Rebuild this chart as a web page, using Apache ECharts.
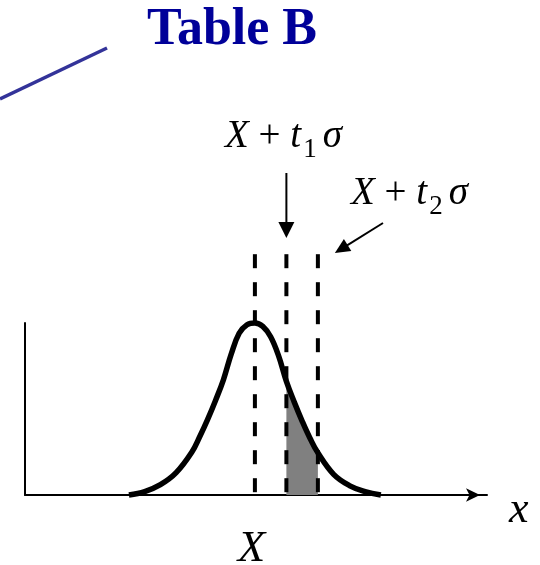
<!DOCTYPE html>
<html>
<head>
<meta charset="utf-8">
<script src="https://cdn.jsdelivr.net/npm/echarts@6/dist/echarts.min.js"></script>
<style>
  html, body { margin: 0; padding: 0; background: #fff; }
  #chart { width: 540px; height: 565px; }
</style>
</head>
<body>
<div id="chart"></div>
<script>
// Normal density curve; x is measured in σ units from the mean X, y is relative height
const curveX = [-4, -3.5, -3, -2.5, -2, -1.75, -1.5, -1.25, -1, -0.75, -0.5, -0.25, 0, 0.25, 0.5, 0.75, 1, 1.25, 1.5, 1.75, 2, 2.5, 3, 3.5, 4];
const curveY = [0, 0.02, 0.06, 0.13, 0.25, 0.34, 0.44, 0.55, 0.67, 0.82, 0.94, 0.99, 1, 0.98, 0.92, 0.81, 0.66, 0.54, 0.43, 0.33, 0.245, 0.12, 0.055, 0.02, 0];

// Dashed guide positions: X, X + t1σ, X + t2σ
const markX = [0, 1, 2];
const markTop = 1.4;

// Shaded band between the two limits
const shadeFrom = 1;
const shadeTo = 2;

// Axis texts
const meanLabel = 'X';
const axisName = 'x';
const titleText = 'Table B';

const serif = 'Liberation Serif';

const curveData = curveX.map((x, i) => [x, curveY[i]]);
const shadeData = curveData.filter(p => p[0] >= shadeFrom && p[0] <= shadeTo);

const chart = echarts.init(document.getElementById('chart'), null, { renderer: 'canvas' });

const guideSeries = markX.map(m => ({
  type: 'line',
  data: [[m, markTop], [m, 0]],
  showSymbol: false,
  clip: false,
  silent: true,
  z: 3,
  lineStyle: { color: '#000', width: 4, type: [14, 14] }
}));

chart.setOption({
  animation: false,
  backgroundColor: '#fff',
  grid: { left: 25, top: 323, right: 53, bottom: 70, containLabel: false, outerBoundsMode: 'none' },
  xAxis: {
    type: 'value',
    min: -7.3,
    max: 7.37,
    axisLine: {
      show: true,
      onZero: false,
      symbol: ['none', 'arrow'],
      symbolSize: [10, 14],
      symbolOffset: [0, -7],
      lineStyle: { color: '#000', width: 2 }
    },
    axisTick: { show: false },
    splitLine: { show: false },
    axisLabel: {
      customValues: [markX[0]],
      formatter: () => meanLabel,
      margin: 32,
      padding: [0, 7, 0, 0],
      fontFamily: serif,
      fontStyle: 'italic',
      fontSize: 45,
      color: '#000'
    },
    name: '{v|' + axisName + '}',
    nameLocation: 'end',
    nameGap: 22,
    nameTextStyle: {
      rich: {
        v: { fontFamily: serif, fontStyle: 'italic', fontSize: 44, lineHeight: 44, color: '#000', padding: [30, 0, 0, 0] }
      }
    }
  },
  yAxis: {
    type: 'value',
    min: 0,
    max: 1,
    axisLine: { show: true, onZero: false, lineStyle: { color: '#000', width: 2 } },
    axisTick: { show: false },
    axisLabel: { show: false },
    splitLine: { show: false }
  },
  series: [
    {
      type: 'line',
      data: shadeData,
      smooth: 0.4,
      showSymbol: false,
      silent: true,
      z: 1,
      lineStyle: { width: 0 },
      areaStyle: { color: '#808080', opacity: 1 }
    },
    ...guideSeries,
    {
      type: 'line',
      data: curveData,
      smooth: 0.4,
      showSymbol: false,
      clip: false,
      silent: true,
      z: 4,
      lineStyle: { color: '#000', width: 5.5 }
    }
  ]
});

// Annotations anchored to the guide lines
const pT1 = chart.convertToPixel({ gridIndex: 0 }, [markX[1], markTop]);
const pT2 = chart.convertToPixel({ gridIndex: 0 }, [markX[2], markTop]);

const formulaRich = {
  i: { fontFamily: serif, fontStyle: 'italic', fontSize: 39, lineHeight: 39, verticalAlign: 'top', fill: '#000' },
  n: { fontFamily: serif, fontSize: 39, lineHeight: 39, verticalAlign: 'top', fill: '#000' },
  s: { fontFamily: serif, fontSize: 27, lineHeight: 27, verticalAlign: 'top', padding: [19, 6, 0, 2], fill: '#000' }
};

const a1x = pT1[0];
const tip2 = [pT2[0] + 17, 253];
const tail2 = [383, 223];
const dx = tip2[0] - tail2[0], dy = tip2[1] - tail2[1];
const len = Math.sqrt(dx * dx + dy * dy);
const ux = dx / len, uy = dy / len;
const base2 = [tip2[0] - 15 * ux, tip2[1] - 15 * uy];
const hw = 7;

chart.setOption({
  graphic: [
    {
      type: 'text', x: 147, y: 30.5,
      style: { text: titleText, fontFamily: serif, fontWeight: 'bold', fontSize: 52, fill: '#000099', align: 'left', verticalAlign: 'middle' }
    },
    {
      type: 'line',
      shape: { x1: 0, y1: 99, x2: 107, y2: 48 },
      style: { stroke: '#333399', lineWidth: 3.5 }
    },
    {
      type: 'text', x: 225, y: 117.5,
      style: { text: '{i|X}{n| + }{i|t}{s|1}{i|σ}', rich: formulaRich, align: 'left', verticalAlign: 'top' }
    },
    {
      type: 'text', x: 351, y: 174.5,
      style: { text: '{i|X}{n| + }{i|t}{s|2}{i|σ}', rich: formulaRich, align: 'left', verticalAlign: 'top' }
    },
    {
      type: 'line',
      shape: { x1: a1x, y1: 173, x2: a1x, y2: 225 },
      style: { stroke: '#000', lineWidth: 2 }
    },
    {
      type: 'polygon',
      shape: { points: [[a1x - 8, 222], [a1x + 8, 222], [a1x, 238]] },
      style: { fill: '#000' }
    },
    {
      type: 'line',
      shape: { x1: tail2[0], y1: tail2[1], x2: base2[0] + 2 * ux, y2: base2[1] + 2 * uy },
      style: { stroke: '#000', lineWidth: 2 }
    },
    {
      type: 'polygon',
      shape: { points: [
        [base2[0] + hw * uy, base2[1] - hw * ux],
        [base2[0] - hw * uy, base2[1] + hw * ux],
        tip2
      ] },
      style: { fill: '#000' }
    }
  ]
});
</script>
</body>
</html>
